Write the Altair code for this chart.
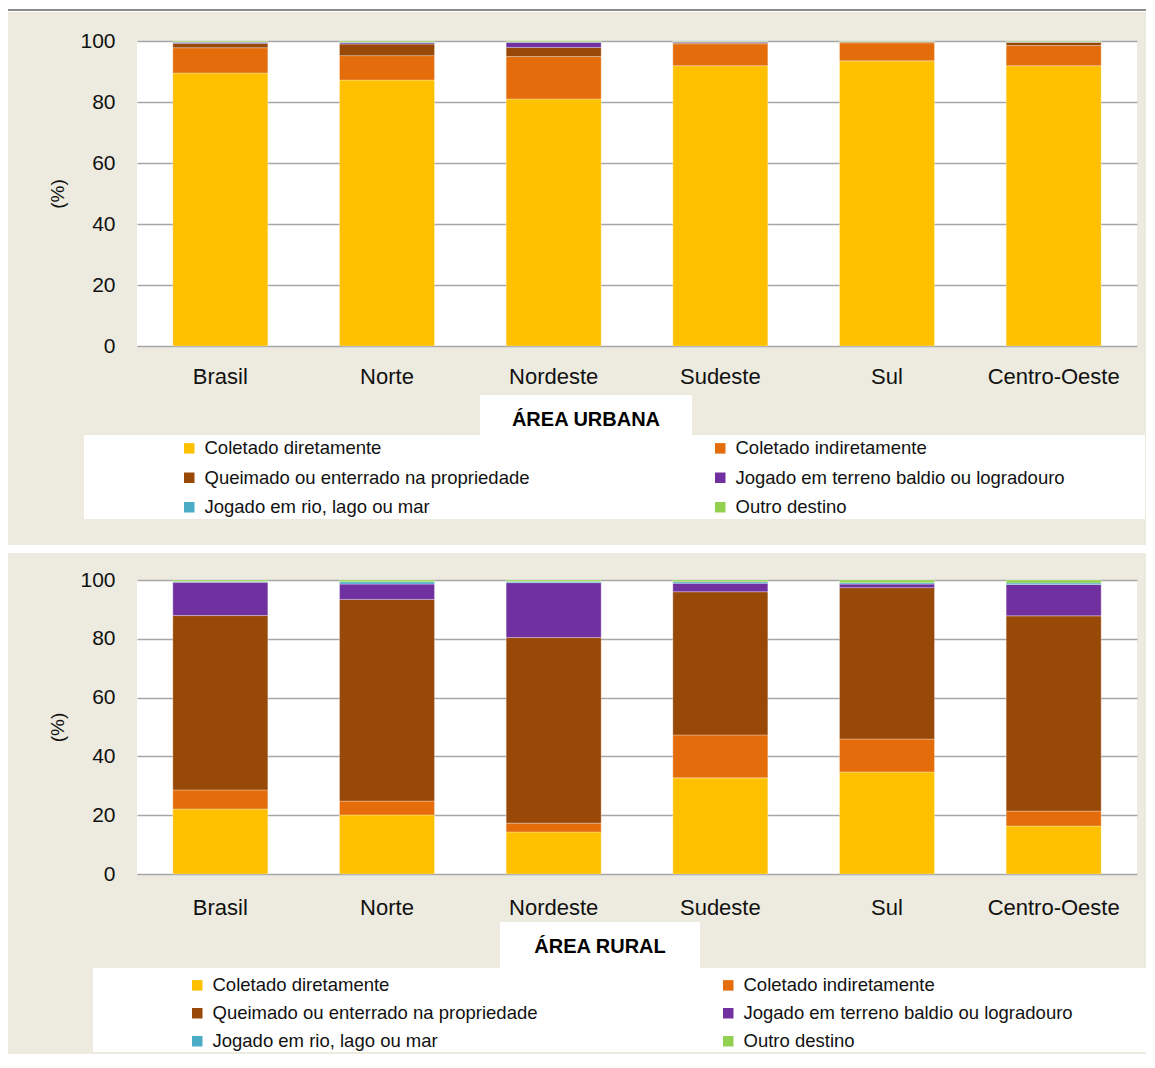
import altair as alt
import pandas as pd

# ---------------- data ----------------
regions = ["Brasil", "Norte", "Nordeste", "Sudeste", "Sul", "Centro-Oeste"]
categories = [
    "Coletado diretamente",
    "Coletado indiretamente",
    "Queimado ou enterrado na propriedade",
    "Jogado em terreno baldio ou logradouro",
    "Jogado em rio, lago ou mar",
    "Outro destino",
]
colors = ["#FFC000", "#E46C0A", "#984807", "#7030A0", "#4BACC6", "#92D050"]

# Área urbana (%), one list per destination, in the order of `regions`
urb_coletado_dir = [89.5, 87.2, 81.0, 91.9, 93.5, 91.9]
urb_coletado_ind = [8.3, 8.0, 13.9, 7.2, 5.9, 6.6]
urb_queimado = [1.4, 3.8, 3.0, 0.3, 0.3, 1.1]
urb_baldio = [0.4, 0.4, 1.7, 0.3, 0.1, 0.1]
urb_rio = [0.1, 0.2, 0.1, 0.1, 0.05, 0.05]
urb_outro = [0.3, 0.4, 0.3, 0.2, 0.15, 0.25]

# Área rural (%)
rur_coletado_dir = [22.1, 20.1, 14.3, 32.7, 34.7, 16.3]
rur_coletado_ind = [6.5, 4.7, 3.0, 14.6, 11.2, 5.1]
rur_queimado = [59.3, 68.6, 63.1, 48.7, 51.5, 66.4]
rur_baldio = [11.3, 5.2, 18.7, 2.9, 1.2, 10.7]
rur_rio = [0.3, 0.8, 0.4, 0.5, 0.5, 0.5]
rur_outro = [0.5, 0.6, 0.5, 0.6, 0.9, 1.0]

y_ticks = [0, 20, 40, 60, 80, 100]

urban_series = [urb_coletado_dir, urb_coletado_ind, urb_queimado, urb_baldio, urb_rio, urb_outro]
rural_series = [rur_coletado_dir, rur_coletado_ind, rur_queimado, rur_baldio, rur_rio, rur_outro]

# legend is filled column by column: left column = items 1,3,5; right column = items 2,4,6
legend_order = categories[0::2] + categories[1::2]
legend_colors = colors[0::2] + colors[1::2]


def long_df(series):
    rows = []
    for ci, cat in enumerate(categories):
        for ri, reg in enumerate(regions):
            rows.append({"regiao": reg, "destino": cat, "ordem": ci, "valor": series[ci][ri]})
    return pd.DataFrame(rows)


# ---------------- style ----------------
FONT = "Liberation Sans, Arial, sans-serif"
BEIGE = "#EDEBE0"
W = 1000
RIGHT = 1009


def box(x1, x2, y1, y2, color, opacity=1.0):
    return alt.Chart(pd.DataFrame({"k": [0]})).mark_rect(fill=color, opacity=opacity).encode(
        x=alt.value(x1), x2=alt.value(x2), y=alt.value(y1), y2=alt.value(y2)
    )


def label(text, x, y):
    return alt.Chart(pd.DataFrame({"t": [text]})).mark_text(
        font=FONT, fontSize=20, fontWeight="bold", color="#000000",
        align="center", baseline="middle"
    ).encode(text="t:N", x=alt.value(x), y=alt.value(y))


def bars(df, h, xpad, leg_x, leg_y, row_pad):
    return alt.Chart(df).mark_bar(stroke="white", strokeWidth=0.6, strokeOpacity=0.5).encode(
        x=alt.X(
            "regiao:N", sort=regions, title=None,
            scale=alt.Scale(paddingInner=0.43, paddingOuter=0.215),
            axis=alt.Axis(labelAngle=0, labelFont=FONT, labelFontSize=22, labelColor="#111111",
                          labelPadding=xpad, ticks=False, domain=False, grid=False),
        ),
        y=alt.Y(
            "valor:Q", stack="zero",
            scale=alt.Scale(domain=[0, 100], nice=False),
            axis=alt.Axis(values=y_ticks, title="(%)", titleFont=FONT, titleFontSize=19,
                          titleFontWeight="normal", titleColor="#111111",
                          titleAngle=270, titleX=-80, titleY=h / 2, titleAlign="center",
                          titleBaseline="middle",
                          labelFont=FONT, labelFontSize=21, labelColor="#111111", labelPadding=22,
                          ticks=False, domain=False, grid=True, gridColor="#A6A6A6", gridWidth=1.5),
        ),
        color=alt.Color(
            "destino:N",
            scale=alt.Scale(domain=legend_order, range=legend_colors),
            legend=alt.Legend(
                orient="none", legendX=leg_x, legendY=leg_y, title=None, columns=2,
                symbolType="square", symbolSize=110, symbolStrokeWidth=0,
                labelFont=FONT, labelFontSize=18.5, labelColor="#111111", labelOffset=6,
                labelLimit=600, columnPadding=181, rowPadding=row_pad, padding=0,
            ),
        ),
        order=alt.Order("ordem:Q", sort="ascending"),
    )


# ---------------- panels ----------------
H1 = 305
urban = alt.layer(
    box(-129, RIGHT, -33, -29, "white"),
    box(-129, RIGHT, -32, -30, "#8C8C8C"),
    box(343, 555, 354, 394, "white"),
    box(-53, 1008, 394, 478, "white"),
    box(-129, RIGHT, 504, 512, "white"),
    bars(long_df(urban_series), H1, 20, 43, 398, 10.5),
    label("ÁREA URBANA", 449, 379),
).properties(width=W, height=H1)

H2 = 294
rural = alt.layer(
    box(-129, RIGHT, -27, 474, "white", 0.0),
    box(363, 563, 342, 388, "white"),
    box(-44, RIGHT, 388, 472, "white"),
    bars(long_df(rural_series), H2, 23, 51, 396, 9),
    label("ÁREA RURAL", 463, 367),
).properties(width=W, height=H2)

chart = (
    alt.vconcat(urban, rural, spacing=0)
    .resolve_scale(color="independent", x="independent", y="independent")
    .resolve_legend(color="independent")
    .properties(padding=0, background=BEIGE)
    .configure_view(fill="white", strokeWidth=0)
)

chart.save("out.html", embed_options={"renderer": "svg", "actions": False})
